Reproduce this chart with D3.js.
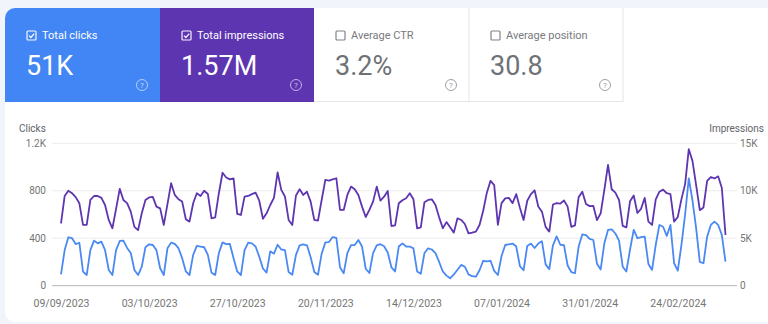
<!DOCTYPE html>
<html><head><meta charset="utf-8">
<script src="https://cdn.jsdelivr.net/npm/d3@7"></script>
<style>
html,body{margin:0;padding:0;background:#f1f4fb;overflow:hidden;}
svg{display:block;font-family:Roboto, sans-serif;}
</style></head><body>
<svg id="c" width="768" height="324"></svg>
<script>
const startDate = "09/09/2023";
const clicks = [
95,300,408,400,351,362,118,
90,300,380,357,371,300,132,
90,300,377,380,318,276,132,
90,160,324,349,343,300,147,
90,315,363,352,316,232,120,
90,260,335,330,324,260,110,
90,275,365,350,352,232,120,
90,300,363,357,330,245,145,
110,290,270,345,305,300,115,
92,260,340,348,340,240,115,
92,270,365,368,410,403,155,
104,275,342,343,385,330,143,
107,275,340,350,333,280,155,
120,330,357,330,330,315,120,
100,275,315,305,275,200,120,
85,62,95,135,175,160,95,
80,76,130,210,205,210,125,
90,250,343,349,355,330,165,
130,335,355,318,355,375,180,
140,340,415,345,342,170,115,
105,330,433,427,395,385,185,
137,357,470,475,440,380,160,
120,305,470,400,410,413,183,
133,345,512,497,420,512,189,
127,345,600,905,720,485,200,
189,413,512,540,512,428,202
];
const impressions = [
6575,9450,10000,9740,9330,8680,6400,
6400,9030,9450,9450,9250,8500,6925,
6050,8100,10200,9030,8700,7800,6200,
5850,7630,9030,9300,9350,8330,8150,
6400,8600,10800,9560,9110,8860,7000,
6750,8680,9740,9450,10000,9660,7100,
7200,9740,11900,11400,11200,11300,7560,
7450,9380,9450,9650,9800,8950,7050,
7630,8500,9250,11930,10090,9400,6925,
6400,9500,10160,9560,9900,8850,6925,
6850,9030,11140,11070,11200,11320,7980,
7980,9560,10440,10160,9560,8330,7240,
7980,8860,10440,8960,9380,9980,6290,
6350,8680,9000,9210,9740,9100,6050,
6150,8800,9030,9100,8500,7200,6050,
6700,6150,5590,7100,6925,6500,5520,
5600,5700,6400,7900,9800,11050,10600,
6400,8700,9200,9250,8700,9650,8200,
6925,8950,9650,10050,8350,7800,6200,
5700,8550,8700,8650,8980,8330,6200,
6350,9330,9900,8600,8380,8400,6900,
7630,10090,12720,10160,9800,9030,6300,
6150,8900,9500,7660,8100,9250,6750,
6400,9100,9900,10120,9740,9650,6750,
7240,9120,10700,14380,13150,10600,7950,
8240,11050,11450,11300,11520,10290,5340
];
const xTickLabels = ["09/09/2023","03/10/2023","27/10/2023","20/11/2023","14/12/2023","07/01/2024","31/01/2024","24/02/2024"];
const leftTicks = [0,400,800,1200];
const rightTicks = [0,5000,10000,15000];
const cardLabels = ["Total clicks","Total impressions","Average CTR","Average position"];
const cardValues = ["51K","1.57M","3.2%","30.8"];
const cardSelected = [true,true,false,false];
const cardColors = ["#4285f4","#5e35b1",null,null];

const parse = d3.timeParse("%d/%m/%Y");
const fmt = d3.timeFormat("%d/%m/%Y");
const t0 = parse(startDate);
const dates = clicks.map((_, i) => d3.timeDay.offset(t0, i));

const svg = d3.select("#c");
const defs = svg.append("defs");
defs.append("clipPath").attr("id","panel").append("rect")
  .attr("x",5).attr("y",8).attr("width",800).attr("height",314).attr("rx",10);

const g = svg.append("g").attr("clip-path","url(#panel)");
g.append("rect").attr("x",5).attr("y",8).attr("width",800).attr("height",314).attr("fill","#fff");

// cards
const cardX = [5,160,314,469,623];
cardLabels.forEach((lab, i) => {
  const x0 = cardX[i], w = cardX[i+1]-cardX[i];
  const sel = cardSelected[i];
  const fg = sel ? "#fff" : "#5f6368";
  const cg = g.append("g");
  if (sel) {
    cg.append("rect").attr("x",x0).attr("y",8).attr("width",w).attr("height",94).attr("fill",cardColors[i]);
  } else {
    cg.append("line").attr("x1",x0+w).attr("x2",x0+w).attr("y1",8).attr("y2",102).attr("stroke","#e3e5e8");
    cg.append("line").attr("x1",x0).attr("x2",x0+w).attr("y1",101.5).attr("y2",101.5).attr("stroke","#e3e5e8");
  }
  const bx = x0+22, by = 31;
  cg.append("rect").attr("x",bx).attr("y",by).attr("width",9).attr("height",9).attr("rx",1)
    .attr("fill","none").attr("stroke",fg).attr("stroke-width",1.2).attr("opacity",sel?0.95:0.8);
  if (sel) {
    cg.append("path").attr("d",`M${bx+2},${by+4.6}L${bx+3.9},${by+6.5}L${bx+7.2},${by+2.6}`)
      .attr("fill","none").attr("stroke",fg).attr("stroke-width",1.2);
  }
  cg.append("text").attr("x",x0+37).attr("y",39).attr("font-size",11).attr("fill",fg)
    .attr("opacity",sel?1:0.85).text(lab);
  cg.append("text").attr("x",x0+21).attr("y",75).attr("font-size",27).attr("fill",fg)
    .attr("opacity",sel?1:0.9).text(cardValues[i]);
  const hx = x0+w-18, hy = 85;
  cg.append("circle").attr("cx",hx).attr("cy",hy).attr("r",5.5).attr("fill","none")
    .attr("stroke",sel?"rgba(255,255,255,0.6)":"#9aa0a6").attr("stroke-width",1);
  cg.append("text").attr("x",hx).attr("y",hy+2.8).attr("text-anchor","middle").attr("font-size",8)
    .attr("fill",sel?"rgba(255,255,255,0.7)":"#9aa0a6").text("?");
});

// chart
const x = d3.scaleTime().domain([dates[0], dates[dates.length-1]]).range([61, 725.5]);
const yL = d3.scaleLinear().domain([0,1200]).range([285.7,143.3]);
const yR = d3.scaleLinear().domain([0,15000]).range([285.7,143.3]);

// gridlines
g.append("g").selectAll("line").data(leftTicks.slice(1)).join("line")
  .attr("x1",52).attr("x2",737).attr("y1",d=>yL(d)).attr("y2",d=>yL(d))
  .attr("stroke","#ececec").attr("stroke-width",1);
g.append("line").attr("x1",52).attr("x2",737).attr("y1",yL(0)).attr("y2",yL(0))
  .attr("stroke","#b6b6b6").attr("stroke-width",1);

const axL = d3.axisLeft(yL).tickValues(leftTicks).tickSize(0).tickPadding(0)
  .tickFormat(d => d >= 1000 ? (d/1000) + "K" : d);
const gl = g.append("g").attr("transform","translate(46,0)").call(axL);
gl.select(".domain").remove();
gl.selectAll("text").attr("font-size",10).attr("fill","#757575").attr("font-family","Roboto, sans-serif");

const axR = d3.axisRight(yR).tickValues(rightTicks).tickSize(0).tickPadding(0)
  .tickFormat(d => d === 0 ? "0" : (d/1000) + "K");
const gr = g.append("g").attr("transform","translate(740,0)").call(axR);
gr.select(".domain").remove();
gr.selectAll("text").attr("font-size",10).attr("fill","#757575").attr("font-family","Roboto, sans-serif");

const axB = d3.axisBottom(x).tickValues(xTickLabels.map(parse)).tickSize(0).tickPadding(0)
  .tickFormat(fmt);
const gb = g.append("g").attr("transform","translate(0,299.5)").call(axB);
gb.select(".domain").remove();
gb.selectAll("text").attr("font-size",10.5).attr("fill","#757575").attr("font-family","Roboto, sans-serif");

g.append("text").attr("x",19).attr("y",132).attr("font-size",10).attr("fill","#5f6368").text("Clicks");
g.append("text").attr("x",764).attr("y",132).attr("text-anchor","end").attr("font-size",10).attr("fill","#5f6368").text("Impressions");

const lineL = d3.line().x((d,i)=>x(dates[i])).y(d=>yL(d));
const lineR = d3.line().x((d,i)=>x(dates[i])).y(d=>yR(d));
g.append("path").datum(clicks).attr("d",lineL).attr("fill","none")
  .attr("stroke","#4a89f3").attr("stroke-width",1.8).attr("stroke-linejoin","round");
g.append("path").datum(impressions).attr("d",lineR).attr("fill","none")
  .attr("stroke","#5e35b1").attr("stroke-width",1.8).attr("stroke-linejoin","round");
</script>
</body></html>
